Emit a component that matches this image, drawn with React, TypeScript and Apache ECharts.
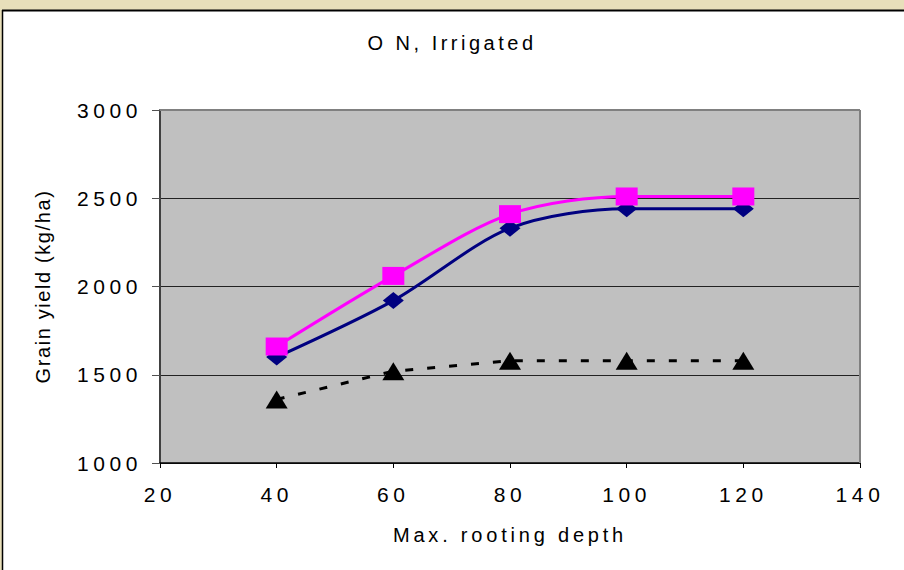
import React, { useEffect, useRef } from "react";
import * as echarts from "echarts";

const depths = [40, 60, 80, 100, 120];
const yieldPink = [1660, 2060, 2410, 2510, 2510];
const yieldNavy = [1600, 1920, 2330, 2440, 2440];
const yieldBlack = [1360, 1520, 1580, 1580, 1580];
const titleText = "O N, Irrigated";
const xName = "Max. rooting depth";
const yName = "Grain yield (kg/ha)";

const FONT = "'Liberation Sans', Arial, sans-serif";
const G_LEFT = 160;
const G_TOP = 110;
const G_RIGHT = 860;
const G_BOTTOM = 463;

export default function App() {
  const ref = useRef<HTMLDivElement>(null);
  useEffect(() => {
    const el = ref.current as HTMLDivElement;
    const chart = echarts.init(el, null, { renderer: "svg" });
    const pair = (ys: number[]) => depths.map((d, i) => [d, ys[i]]);
    const applySpacing = () => {
      el.querySelectorAll("text").forEach((t) => {
        const s = t.textContent || "";
        let ls = 4.6;
        if (s === yName) ls = 1.6;
        else if (s === xName) ls = 3.8;
        else if (s === titleText) ls = 3.5;
        (t as SVGTextElement).style.letterSpacing = ls + "px";
      });
    };
    chart.on("finished", applySpacing);
    chart.setOption({
      animation: false,
      backgroundColor: "#ffffff",
      grid: {
        left: G_LEFT,
        top: G_TOP,
        right: 904 - G_RIGHT,
        bottom: 570 - G_BOTTOM,
        show: true,
        backgroundColor: "#C0C0C0",
        borderWidth: 0,
      },
      graphic: [
        { type: "rect", shape: { x: 0, y: 0, width: 904, height: 10 }, style: { fill: "#E8DFBA" }, z: 10 },
        { type: "rect", shape: { x: 0, y: 0, width: 2, height: 570 }, style: { fill: "#E8DFBA" }, z: 10 },
        { type: "line", shape: { x1: 2, y1: 10.5, x2: 904, y2: 10.5 }, style: { stroke: "#000", lineWidth: 2 }, z: 11 },
        { type: "line", shape: { x1: 2.5, y1: 10, x2: 2.5, y2: 570 }, style: { stroke: "#000", lineWidth: 1.5 }, z: 11 },
        { type: "line", shape: { x1: G_LEFT, y1: G_TOP, x2: G_RIGHT, y2: G_TOP }, style: { stroke: "#808080", lineWidth: 2 }, z: 5 },
        { type: "line", shape: { x1: G_RIGHT, y1: G_TOP, x2: G_RIGHT, y2: G_BOTTOM }, style: { stroke: "#808080", lineWidth: 2 }, z: 5 },
        {
          type: "text",
          x: 452,
          y: 43,
          z: 12,
          style: {
            text: titleText,
            align: "center",
            verticalAlign: "middle",
            fill: "#000",
            font: `20px ${FONT}`,
          },
        },
      ],
      xAxis: {
        type: "value",
        min: 20,
        max: 140,
        interval: 20,
        name: xName,
        nameLocation: "middle",
        nameGap: 62,
        nameTextStyle: { fontFamily: FONT, fontSize: 20, color: "#000" },
        axisLine: { show: true, lineStyle: { color: "#000", width: 1.5 } },
        axisTick: { show: true, length: 5, lineStyle: { color: "#000" } },
        axisLabel: { margin: 21, fontFamily: FONT, fontSize: 21, color: "#000", formatter: (v: number) => String(v) },
        splitLine: { show: false },
      },
      yAxis: {
        type: "value",
        min: 1000,
        max: 3000,
        interval: 500,
        name: yName,
        nameLocation: "middle",
        nameGap: 107,
        nameRotate: 90,
        nameTextStyle: { fontFamily: FONT, fontSize: 20, color: "#000" },
        axisLine: { show: true, lineStyle: { color: "#404040", width: 2 } },
        axisTick: { show: true, length: 8, lineStyle: { color: "#505050" } },
        axisLabel: { margin: 18, fontFamily: FONT, fontSize: 21, color: "#000", formatter: (v: number) => String(v) },
        splitLine: { show: true, lineStyle: { color: "#222", width: 1 } },
      },
      series: [
        {
          name: "Black",
          type: "line",
          data: pair(yieldBlack),
          smooth: false,
          symbol: "triangle",
          symbolSize: [22, 18],
          itemStyle: { color: "#000" },
          lineStyle: { color: "#000", width: 3, type: [8, 14] },
          z: 3,
        },
        {
          name: "Navy",
          type: "line",
          data: pair(yieldNavy),
          smooth: 0.3,
          symbol: "diamond",
          symbolSize: [21, 17],
          itemStyle: { color: "#000080" },
          lineStyle: { color: "#000080", width: 3 },
          z: 4,
        },
        {
          name: "Pink",
          type: "line",
          data: pair(yieldPink),
          smooth: 0.3,
          symbol: "rect",
          symbolSize: [22, 18],
          itemStyle: { color: "#FF00FF" },
          lineStyle: { color: "#FF00FF", width: 3 },
          z: 5,
        },
      ],
    });
    applySpacing();
    const timer = window.setTimeout(applySpacing, 50);
    return () => {
      window.clearTimeout(timer);
      chart.dispose();
    };
  }, []);
  return (
    <div style={{ position: "fixed", left: 0, top: 0, width: 904, height: 570, background: "#fff" }}>
      <div ref={ref} style={{ width: 904, height: 570 }} />
    </div>
  );
}
